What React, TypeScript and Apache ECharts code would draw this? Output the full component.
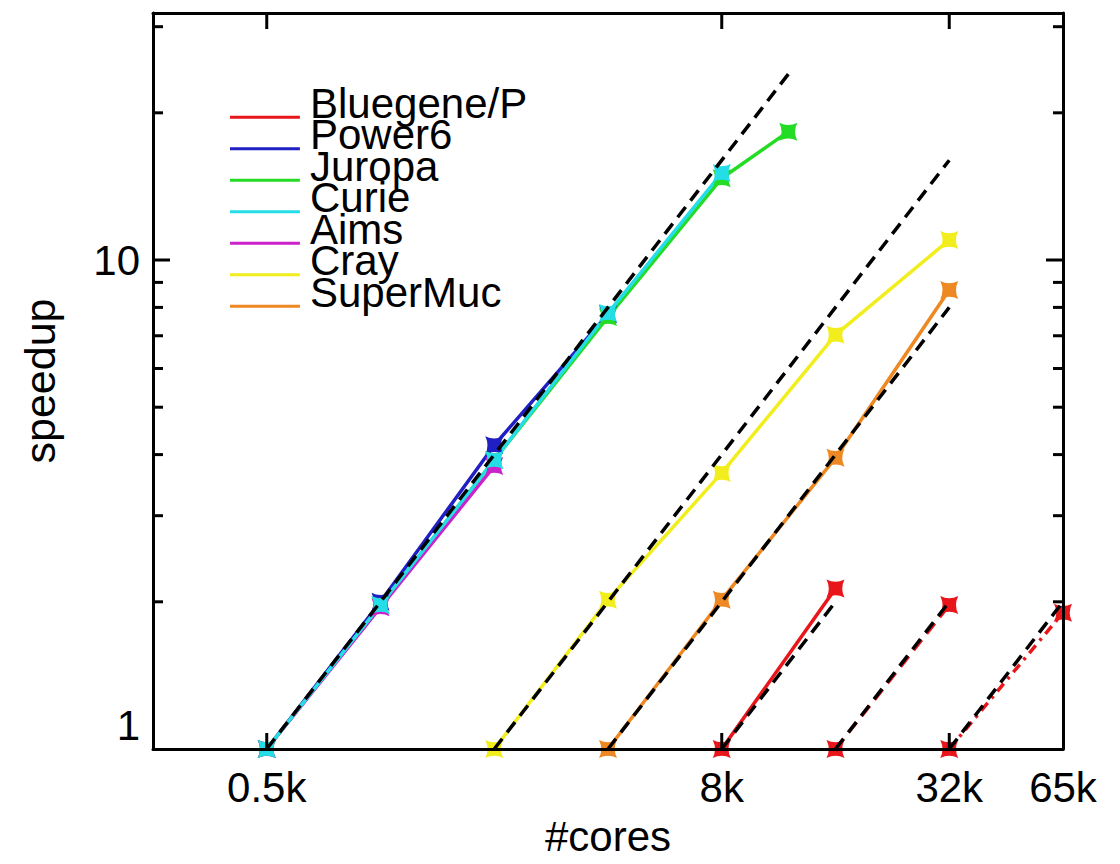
import React, { useEffect, useRef } from 'react';
import * as echarts from 'echarts';

// ---------- data ----------
const seriesNames = ['Bluegene/P', 'Power6', 'Juropa', 'Curie', 'Aims', 'Cray', 'SuperMuc'];
const seriesColors = ['#e8161b', '#1f1fc4', '#25dc25', '#25dde6', '#cc22cc', '#f2ee1e', '#ee8822'];

const bluegeneCoresA = [8192, 16384];
const bluegeneSpeedupA = [1, 2.13];
const bluegeneCoresB = [16384, 32768];
const bluegeneSpeedupB = [1, 1.97];
const bluegeneCoresC = [32768, 65536];
const bluegeneSpeedupC = [1, 1.9];

const power6Cores = [512, 1024, 2048, 4096];
const power6Speedup = [1, 2.0, 4.18, 7.75];

const juropaCores = [512, 1024, 2048, 4096, 8192, 12288];
const juropaSpeedup = [1, 1.97, 3.9, 7.65, 14.7, 18.3];

const curieCores = [512, 1024, 2048, 4096, 8192];
const curieSpeedup = [1, 1.97, 3.9, 7.79, 15.06];

const aimsCores = [512, 1024, 2048];
const aimsSpeedup = [1, 1.95, 3.79];

const crayCores = [2048, 4096, 8192, 16384, 32768];
const craySpeedup = [1, 2.02, 3.67, 7.03, 10.99];

const superMucCores = [4096, 8192, 16384, 32768];
const superMucSpeedup = [1, 2.02, 3.94, 8.68];

// ideal (linear) speedup reference lines
const idealStartCores = [512, 2048, 4096, 8192, 16384, 32768];
const idealEndCores = [12288, 32768, 32768, 16384, 32768, 65536];
const idealEndSpeedup = [24, 16, 8, 2, 2, 2];

const xTickLabels: Record<number, string> = { 512: '0.5k', 8192: '8k', 32768: '32k', 65536: '65k' };
const yTickLabels: Record<number, string> = { 1: '{lo|1}', 10: '10' };
const xMajorTicks = [512, 8192, 32768];
const yMajorTicks = [10];
const yMinorTicks = [2, 3, 4, 5, 6, 7, 8, 9, 20, 30];

const X_MIN = 256;
const X_MAX = 65536;
const Y_MIN = 1;
const Y_MAX = 32;

// ---------- styling ----------
const FONT = '"Liberation Sans", Helvetica, Arial, sans-serif';
const STAR = 'path://M0,0 Q10,5 20,0 Q15,10 20,20 Q10,15 0,20 Q5,10 0,0 Z';
const LEGEND_ICON = 'path://M0,0h0.1v0.1h-0.1z M0,28.5h70v3h-70z M75,0h0.1v0.1h-0.1z';

const pairs = (xs: number[], ys: number[]) => xs.map((x, i) => [x, ys[i]]);

function dataSeries(nameIdx: number, xs: number[], ys: number[], lineType: any = 'solid', z = 2) {
  const color = seriesColors[nameIdx];
  return {
    type: 'line',
    name: seriesNames[nameIdx],
    data: pairs(xs, ys),
    symbol: STAR,
    symbolSize: 18,
    showSymbol: true,
    lineStyle: { color, width: 3.5, type: lineType },
    itemStyle: { color },
    z,
    silent: true,
    emphasis: { disabled: true },
  };
}

export default function App() {
  const ref = useRef<HTMLDivElement>(null);

  useEffect(() => {
    if (!ref.current) return;
    const chart = echarts.init(ref.current, undefined, { renderer: 'svg' });

    const idealSeries = idealStartCores.map((s, i) => ({
      type: 'line',
      name: 'ideal',
      data: [
        [s, 1],
        [idealEndCores[i], idealEndSpeedup[i]],
      ],
      symbol: 'none',
      lineStyle: { color: '#000', width: 3.5, type: [13, 8] },
      z: 3,
      silent: true,
      emphasis: { disabled: true },
    }));

    const tickData: number[][] = [
      ...yMajorTicks.map((v) => [X_MIN, v, 0]),
      ...yMinorTicks.map((v) => [X_MIN, v, 1]),
      ...xMajorTicks.map((v) => [v, Y_MIN, 2]),
    ];

    const tickSeries = {
      type: 'custom',
      silent: true,
      z: 10,
      data: tickData,
      renderItem: (params: any, api: any) => {
        const cs = params.coordSys;
        const kind = api.value(2);
        const st = { stroke: '#000', lineWidth: 3 };
        if (kind <= 1) {
          const y = api.coord([X_MIN, api.value(1)])[1];
          const len = kind === 0 ? 17 : 10;
          return {
            type: 'group',
            children: [
              { type: 'line', shape: { x1: cs.x, y1: y, x2: cs.x + len, y2: y }, style: st },
              { type: 'line', shape: { x1: cs.x + cs.width - len, y1: y, x2: cs.x + cs.width, y2: y }, style: st },
            ],
          };
        }
        const x = api.coord([api.value(0), Y_MIN])[0];
        const len = 16;
        return {
          type: 'group',
          children: [
            { type: 'line', shape: { x1: x, y1: cs.y + cs.height, x2: x, y2: cs.y + cs.height - len }, style: st },
            { type: 'line', shape: { x1: x, y1: cs.y, x2: x, y2: cs.y + len }, style: st },
          ],
        };
      },
    };

    const axisLine = { show: true, onZero: false, lineStyle: { color: '#000', width: 3 } };

    const option: any = {
      animation: false,
      backgroundColor: '#fff',
      grid: { left: 153, top: 13, right: 57, bottom: 115, containLabel: false },
      legend: {
        orient: 'vertical',
        left: 230,
        top: 82,
        padding: 0,
        itemGap: -10.5,
        itemWidth: 75,
        itemHeight: 31.5,
        selectedMode: false,
        icon: LEGEND_ICON,
        textStyle: { fontSize: 42, color: '#000', fontFamily: FONT },
        data: seriesNames.map((n, i) => ({ name: n, icon: LEGEND_ICON, itemStyle: { color: seriesColors[i], borderWidth: 0 } })),
      },
      xAxis: [
        {
          type: 'log',
          logBase: 2,
          min: X_MIN,
          max: X_MAX,
          position: 'bottom',
          z: 5,
          axisLine,
          axisTick: { show: false },
          splitLine: { show: false },
          axisLabel: {
            formatter: (v: number) => xTickLabels[Math.round(v)] ?? '',
            fontSize: 42,
            color: '#000',
            fontFamily: FONT,
            margin: 17,
          },
          name: '#cores',
          nameLocation: 'middle',
          nameGap: 66,
          nameTextStyle: { fontSize: 42, color: '#000', fontFamily: FONT },
        },
        {
          type: 'log',
          logBase: 2,
          min: X_MIN,
          max: X_MAX,
          position: 'top',
          z: 5,
          axisLine,
          axisTick: { show: false },
          splitLine: { show: false },
          axisLabel: { show: false },
        },
      ],
      yAxis: [
        {
          type: 'log',
          logBase: 10,
          min: Y_MIN,
          max: Y_MAX,
          position: 'left',
          z: 5,
          axisLine,
          axisTick: { show: false },
          splitLine: { show: false },
          axisLabel: {
            formatter: (v: number) => yTickLabels[Math.round(v)] ?? '',
            fontSize: 42,
            color: '#000',
            fontFamily: FONT,
            margin: 13,
            rich: { lo: { fontSize: 42, color: '#000', fontFamily: FONT, padding: [0, 0, 48, 0] } },
          },
          name: 'speedup',
          nameLocation: 'middle',
          nameGap: 92,
          nameRotate: 90,
          nameTextStyle: { fontSize: 43, color: '#000', fontFamily: FONT },
        },
        {
          type: 'log',
          logBase: 10,
          min: Y_MIN,
          max: Y_MAX,
          position: 'right',
          z: 5,
          axisLine,
          axisTick: { show: false },
          splitLine: { show: false },
          axisLabel: { show: false },
        },
      ],
      series: [
        dataSeries(0, bluegeneCoresA, bluegeneSpeedupA, 'solid'),
        dataSeries(0, bluegeneCoresB, bluegeneSpeedupB, [13, 8]),
        dataSeries(0, bluegeneCoresC, bluegeneSpeedupC, [10, 6, 3, 6]),
        dataSeries(1, power6Cores, power6Speedup),
        dataSeries(2, juropaCores, juropaSpeedup),
        dataSeries(4, aimsCores, aimsSpeedup),
        dataSeries(3, curieCores, curieSpeedup),
        dataSeries(5, crayCores, craySpeedup),
        dataSeries(6, superMucCores, superMucSpeedup),
        ...idealSeries,
        tickSeries,
      ],
    };

    chart.setOption(option);
    return () => chart.dispose();
  }, []);

  return <div ref={ref} style={{ position: 'absolute', left: 0, top: 0, width: 1120, height: 864 }} />;
}
